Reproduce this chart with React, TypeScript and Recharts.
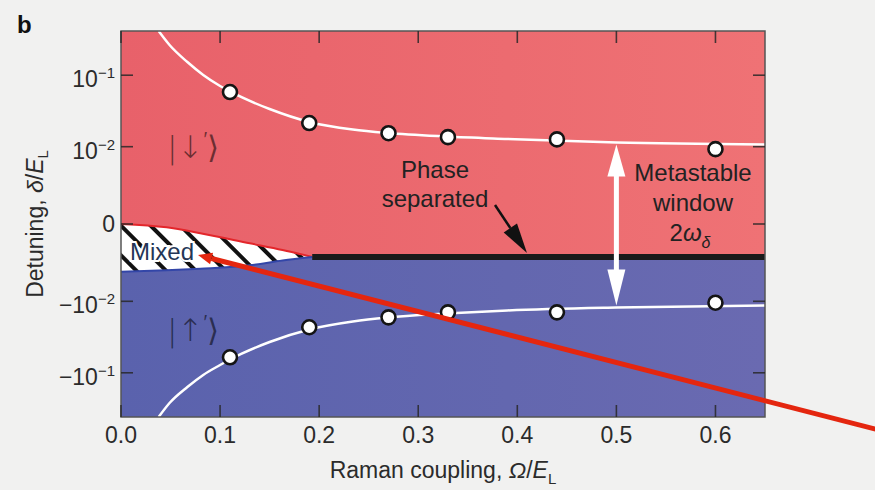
import React from 'react';
import { ComposedChart, XAxis, YAxis, Line, Area, Scatter, ReferenceArea } from 'recharts';

// symlog transform used for the detuning axis
const C = 1e-3;
const sl = (d: number) => Math.sign(d) * Math.log10(1 + Math.abs(d) / C);

const xTicks = [0, 0.1, 0.2, 0.3, 0.4, 0.5, 0.6];
const yTickValues = [0.1, 0.01, 0, -0.01, -0.1];
const yTickBase = ['10', '10', '0', '−10', '−10'];
const yTickExp = ['−1', '−2', '', '−2', '−1'];

// measured points
const omegaPts = [0.11, 0.19, 0.27, 0.33, 0.44, 0.6];
const upperPts = [0.059, 0.0219, 0.0157, 0.0138, 0.0128, 0.0092];
const lowerPts = [-0.0615, -0.0236, -0.0171, -0.0145, -0.0145, -0.0105];

// theory curves
const curveOmega = [0.038, 0.049, 0.067, 0.083, 0.1, 0.11, 0.15, 0.19, 0.234, 0.269, 0.328, 0.39, 0.5, 0.65];
const curveUp = [0.397, 0.257, 0.151, 0.1007, 0.0713, 0.06, 0.0344, 0.0227, 0.0177, 0.0158, 0.0141, 0.013, 0.0115, 0.0108];
const curveLow = [-0.397, -0.257, -0.156, -0.107, -0.0784, -0.0659, -0.0379, -0.0254, -0.0196, -0.0172, -0.0151, -0.0136, -0.0123, -0.0115];

// mixed region
const mixedOmega = [0, 0.046, 0.08, 0.13, 0.163, 0.193];
const mixedTop = [0, -0.00011, -0.00033, -0.00082, -0.00124, -0.00178];
const mixedBottom = [-0.0034, -0.0032, -0.003, -0.0026, -0.0021, -0.00178];

const phaseBoundary = -0.00178;
const boundaryOmega = [0.193, 0.65];
const windowOmega = 0.5;

const W = 875, H = 490;
const PL = 121, PR = 765, PT = 31, PB = 417;
const X_MAX = 0.65, U_MAX = 2.6;
const px = (x: number) => PL + (x / X_MAX) * (PR - PL);
const py = (d: number) => PT + ((U_MAX - sl(d)) / (2 * U_MAX)) * (PB - PT);

const FONT = '"Liberation Sans", Arial, Helvetica, sans-serif';

const toPts = (xs: number[], ys: number[]) => xs.map((x, i) => ({ x, y: sl(ys[i]) }));
const mixedData = mixedOmega.map((x, i) => ({ x, range: [sl(mixedBottom[i]), sl(mixedTop[i])] }));

const Marker = (p: any) => (
  <circle cx={p.cx} cy={p.cy} r={7} fill="#fff" stroke="#141414" strokeWidth={2.6} />
);

const XTick = (p: any) => (
  <text x={p.x} y={p.y + 15} textAnchor="middle" fontSize={23} fontFamily={FONT} fill="#2b2b2b">
    {Number(p.payload.value).toFixed(1)}
  </text>
);

const YTick = (p: any) => {
  const i = yTickValues.findIndex((v) => Math.abs(sl(v) - p.payload.value) < 1e-6);
  if (i < 0) return null;
  if (!yTickExp[i]) {
    return (
      <text x={p.x} y={p.y + 8} textAnchor="end" fontSize={23} fontFamily={FONT} fill="#2b2b2b">
        {yTickBase[i]}
      </text>
    );
  }
  return (
    <text x={p.x} y={p.y + 12} textAnchor="end" fontSize={23} fontFamily={FONT} fill="#2b2b2b">
      <tspan>{yTickBase[i]}</tspan>
      <tspan dy={-9} fontSize={15}>{yTickExp[i]}</tspan>
    </text>
  );
};

const arrowHead = (tx: number, ty: number, fx: number, fy: number, len: number, half: number) => {
  const dx = tx - fx, dy = ty - fy;
  const l = Math.hypot(dx, dy);
  const ux = dx / l, uy = dy / l;
  const bx = tx - ux * len, by = ty - uy * len;
  return {
    pts: `${tx},${ty} ${bx - uy * half},${by + ux * half} ${bx + uy * half},${by - ux * half}`,
    bx,
    by,
  };
};

const Ket = ({ x, y, arrow }: { x: number; y: number; arrow: string }) => (
  <text x={x} y={y} fill="rgba(0,0,0,0.55)" fontFamily='"DejaVu Sans", sans-serif' fontWeight={200} fontSize={31}>
    |{arrow}
    <tspan dy={-12} fontSize={20}>′</tspan>
    <tspan dy={12}>⟩</tspan>
  </text>
);

export default function App() {
  const blackTip = arrowHead(527, py(phaseBoundary) - 4, 495, 205, 30, 8);
  const redTip = arrowHead(198, 255, 875, 429, 14, 6);
  const wx = px(windowOmega);
  const wTop = py(curveUp[12]) + 2;
  const wBot = py(curveLow[12]) - 2;
  const tickColor = 'rgba(40,40,40,0.85)';

  return (
    <div style={{ position: 'absolute', left: 0, top: 0, width: W, height: H, background: '#f1f1f0', overflow: 'hidden' }}>
      <svg width={0} height={0} style={{ position: 'absolute' }}>
        <defs>
          <linearGradient id="redGrad" x1="0" y1="0" x2="1" y2="0">
            <stop offset="0" stopColor="#e8616a" />
            <stop offset="0.6" stopColor="#ec6b70" />
            <stop offset="1" stopColor="#ef7275" />
          </linearGradient>
          <linearGradient id="blueGrad" x1="0" y1="0" x2="1" y2="0">
            <stop offset="0" stopColor="#5a62ad" />
            <stop offset="0.6" stopColor="#6367af" />
            <stop offset="1" stopColor="#6a6ab1" />
          </linearGradient>
          <pattern id="hatch" patternUnits="userSpaceOnUse" width="21" height="21" patternTransform="rotate(-45)">
            <rect width="21" height="21" fill="#fff" />
            <line x1="10" y1="0" x2="10" y2="21" stroke="#111" strokeWidth="4" />
          </pattern>
        </defs>
      </svg>
      <ComposedChart width={W} height={H} margin={{ top: PT, right: W - PR, bottom: 0, left: 0 }}>
        <XAxis
          xAxisId="b"
          type="number"
          dataKey="x"
          domain={[0, X_MAX]}
          ticks={xTicks}
          height={H - PB}
          tickSize={-12}
          tickMargin={23}
          tick={XTick}
          axisLine={false}
          tickLine={false}
          allowDataOverflow
        />
        <YAxis
          yAxisId="l"
          type="number"
          dataKey="y"
          domain={[-U_MAX, U_MAX]}
          ticks={yTickValues.map(sl)}
          width={PL}
          tickSize={-12}
          tickMargin={18}
          tick={YTick}
          axisLine={false}
          tickLine={false}
          allowDataOverflow
        />

        <ReferenceArea xAxisId="b" yAxisId="l" x1={0} x2={X_MAX} y1={sl(phaseBoundary)} y2={U_MAX}
          fill="url(#redGrad)" fillOpacity={1} stroke="none" ifOverflow="visible" />
        <ReferenceArea xAxisId="b" yAxisId="l" x1={0} x2={X_MAX} y1={-U_MAX} y2={sl(phaseBoundary)}
          fill="url(#blueGrad)" fillOpacity={1} stroke="none" ifOverflow="visible" />

        <Area xAxisId="b" yAxisId="l" data={mixedData} dataKey="range" type="monotone"
          stroke="none" fill="url(#hatch)" fillOpacity={1} isAnimationActive={false} />
        <Line xAxisId="b" yAxisId="l" data={toPts(mixedOmega, mixedTop)} dataKey="y" type="monotone"
          stroke="#e3262b" strokeWidth={2} dot={false} activeDot={false} isAnimationActive={false} />
        <Line xAxisId="b" yAxisId="l" data={toPts(mixedOmega, mixedBottom)} dataKey="y" type="monotone"
          stroke="#3346a8" strokeWidth={2} dot={false} activeDot={false} isAnimationActive={false} />
        <Line xAxisId="b" yAxisId="l" data={toPts(boundaryOmega, [phaseBoundary, phaseBoundary])} dataKey="y"
          stroke="#1a1a1a" strokeWidth={6} dot={false} activeDot={false} isAnimationActive={false} />

        <Line xAxisId="b" yAxisId="l" data={toPts(curveOmega, curveUp)} dataKey="y" type="monotone"
          stroke="#fff" strokeWidth={2.5} dot={false} activeDot={false} isAnimationActive={false} />
        <Line xAxisId="b" yAxisId="l" data={toPts(curveOmega, curveLow)} dataKey="y" type="monotone"
          stroke="#fff" strokeWidth={2.5} dot={false} activeDot={false} isAnimationActive={false} />

        <Scatter xAxisId="b" yAxisId="l" data={toPts(omegaPts, upperPts)} dataKey="y" shape={Marker} isAnimationActive={false} />
        <Scatter xAxisId="b" yAxisId="l" data={toPts(omegaPts, lowerPts)} dataKey="y" shape={Marker} isAnimationActive={false} />
      </ComposedChart>

      <svg width={W} height={H} style={{ position: 'absolute', left: 0, top: 0, pointerEvents: 'none' }} fontFamily={FONT}>
        {/* frame and inward ticks */}
        <rect x={PL} y={PT} width={PR - PL} height={PB - PT} fill="none" stroke="#555" strokeWidth={1.5} />
        {xTicks.map((t) => (
          <g key={`xt${t}`} stroke={tickColor} strokeWidth={1.6}>
            <line x1={px(t)} y1={PB} x2={px(t)} y2={PB - 12} />
            <line x1={px(t)} y1={PT} x2={px(t)} y2={PT + 12} />
          </g>
        ))}
        {yTickValues.map((t) => (
          <g key={`yt${t}`} stroke={tickColor} strokeWidth={1.6}>
            <line x1={PL} y1={py(t)} x2={PL + 12} y2={py(t)} />
            <line x1={PR} y1={py(t)} x2={PR - 12} y2={py(t)} />
          </g>
        ))}

        <text x={17} y={33} fontSize={24} fontWeight="bold" fill="#111">b</text>

        <text x={0} y={0} transform={`translate(43, ${(PT + PB) / 2}) rotate(-90)`} textAnchor="middle" fontSize={23} fill="#2b2b2b">
          Detuning, <tspan fontStyle="italic">δ</tspan>/<tspan fontStyle="italic">E</tspan>
          <tspan dy={5} fontSize={15}>L</tspan>
        </text>
        <text x={(PL + PR) / 2} y={478} textAnchor="middle" fontSize={23} fill="#2b2b2b">
          Raman coupling, <tspan fontStyle="italic">Ω</tspan>/<tspan fontStyle="italic">E</tspan>
          <tspan dy={6} fontSize={15}>L</tspan>
        </text>

        <Ket x={167} y={158} arrow="↓" />
        <Ket x={167} y={341} arrow="↑" />

        <text x={435} y={178} textAnchor="middle" fontSize={24} fill="#222">Phase</text>
        <text x={435} y={207} textAnchor="middle" fontSize={24} fill="#222">separated</text>
        <line x1={495} y1={205} x2={blackTip.bx} y2={blackTip.by} stroke="#111" strokeWidth={2.5} />
        <polygon points={blackTip.pts} fill="#111" />

        <text x={693} y={181} textAnchor="middle" fontSize={24} fill="#222">Metastable</text>
        <text x={693} y={211} textAnchor="middle" fontSize={24} fill="#222">window</text>
        <text x={690} y={241} textAnchor="middle" fontSize={24} fill="#222">
          2<tspan fontStyle="italic">ω</tspan>
          <tspan dy={7} fontSize={16} fontStyle="italic">δ</tspan>
        </text>

        <line x1={wx} y1={wTop + 28} x2={wx} y2={wBot - 28} stroke="#fff" strokeWidth={5} />
        <polygon points={`${wx},${wTop} ${wx - 9},${wTop + 32} ${wx + 9},${wTop + 32}`} fill="#fff" />
        <polygon points={`${wx},${wBot} ${wx - 9},${wBot - 36} ${wx + 9},${wBot - 36}`} fill="#fff" />

        <text x={130} y={260} fontSize={24} fill="#243656" stroke="#fff" strokeWidth={4} paintOrder="stroke">Mixed</text>

        <line x1={880} y1={430.3} x2={redTip.bx} y2={redTip.by} stroke="#e4260f" strokeWidth={5} />
        <polygon points={redTip.pts} fill="#e4260f" />
      </svg>
    </div>
  );
}
